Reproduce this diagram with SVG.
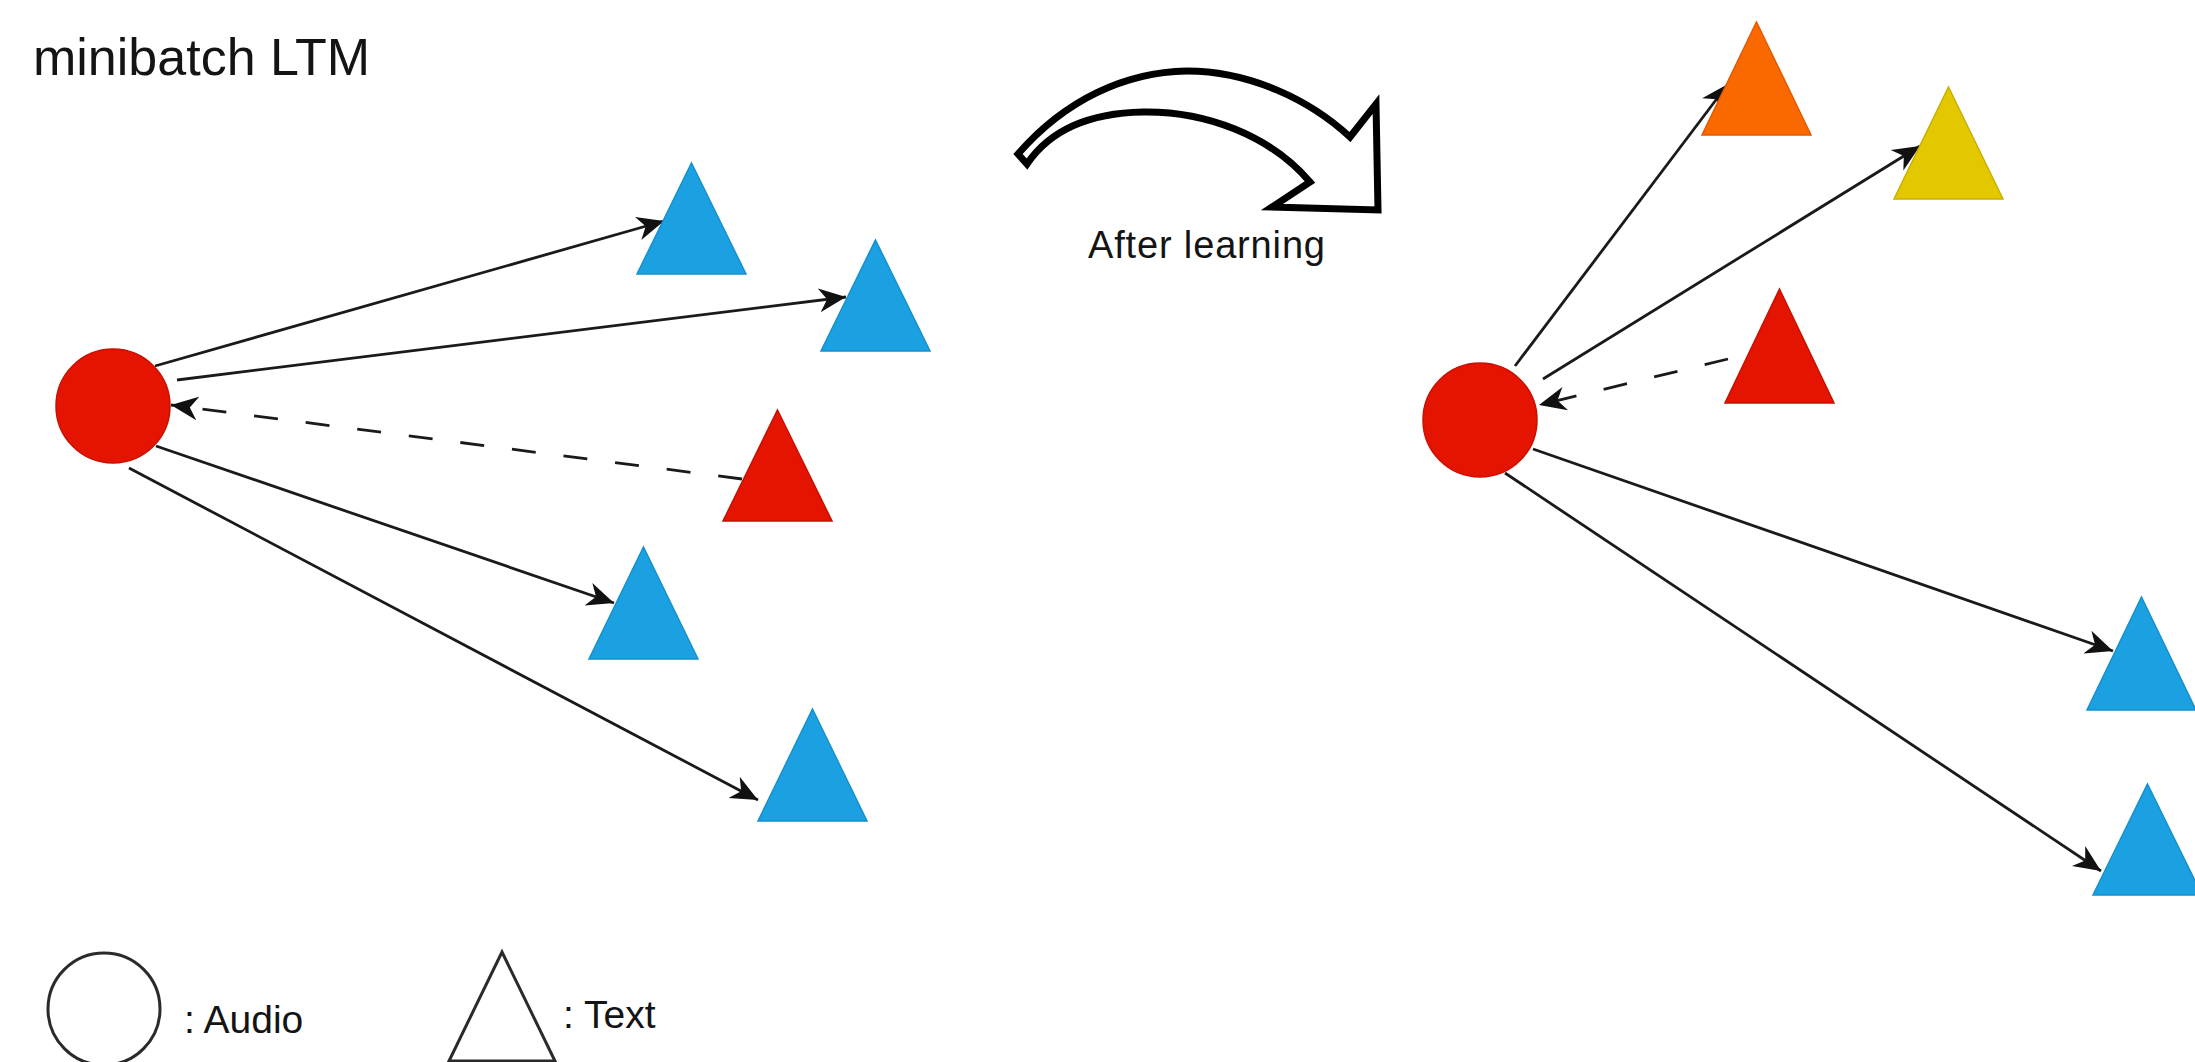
<svg xmlns="http://www.w3.org/2000/svg" width="2195" height="1062" viewBox="0 0 2195 1062">
  <style>
    .label { font-family: "Liberation Sans", Arial, Helvetica, sans-serif; fill: #141414; }
    .audio { fill: #e51400; stroke: #c81000; stroke-width: 1.5; }
    .blue { fill: #1ba1e2; stroke: #1590cf; stroke-width: 1.5; }
    .red { fill: #e51400; stroke: #c81000; stroke-width: 1.5; }
    .orange { fill: #fa6800; stroke: #e35a00; stroke-width: 1.5; }
    .yellow { fill: #e3c800; stroke: #c9b000; stroke-width: 1.5; }
    .edge { fill: none; stroke: #1a1a1a; stroke-width: 2.8; marker-end: url(#arrow); }
    .dashed { stroke-dasharray: 24 28; }
    .legend { fill: #ffffff; stroke: #2a2a2a; stroke-width: 3; }
  </style>
  <defs>
    <marker id="arrow" viewBox="0 0 28 26" markerWidth="28" markerHeight="26" refX="27" refY="13" orient="auto" markerUnits="userSpaceOnUse">
      <path d="M27,13 L0,1 L8,13 L0,25 Z" fill="#111111"/>
    </marker>
  </defs>

  <rect width="2195" height="1062" fill="#ffffff"/>

  <text class="label" x="33" y="75" font-size="52">minibatch LTM</text>

  <!-- connectors -->
  <g id="connectors">
    <!-- before learning -->
    <line class="edge" x1="155" y1="366" x2="664" y2="221"/>
    <line class="edge" x1="177" y1="380" x2="846" y2="297"/>
    <line class="edge dashed" x1="742" y1="479" x2="171" y2="405"/>
    <line class="edge" x1="156" y1="446" x2="614" y2="603"/>
    <line class="edge" x1="129" y1="468" x2="758" y2="800"/>
    <!-- after learning -->
    <line class="edge" x1="1515" y1="366" x2="1728" y2="84"/>
    <line class="edge" x1="1543" y1="379" x2="1920" y2="146"/>
    <line class="edge dashed" x1="1728" y1="359" x2="1539" y2="405"/>
    <line class="edge" x1="1533" y1="449" x2="2113" y2="651"/>
    <line class="edge" x1="1505" y1="473" x2="2101" y2="871"/>
  </g>

  <!-- before learning -->
  <g id="audio-before"><circle class="audio" cx="113" cy="406" r="57"/></g>
  <g id="text-before-1"><polygon class="blue" points="691.5,163 746,274 637,274"/></g>
  <g id="text-before-2"><polygon class="blue" points="875.5,240 930,351 821,351"/></g>
  <g id="text-before-pair"><polygon class="red" points="777.5,410 832,521 723,521"/></g>
  <g id="text-before-3"><polygon class="blue" points="643.5,547 698,659 589,659"/></g>
  <g id="text-before-4"><polygon class="blue" points="812.5,709 867,821 758,821"/></g>

  <!-- transition arrow -->
  <g id="after-learning">
    <path d="M1018,154 C1065,100 1125,72 1187,71 C1250,71 1310,100 1350,137 L1376,104 L1378,210 L1272,207 L1310,182 C1270,135 1205,111 1143,112 C1090,113 1050,130 1027,164 Z" fill="#ffffff" stroke="#000000" stroke-width="7" stroke-linejoin="miter"/>
    <text class="label" x="1088" y="258" font-size="38" textLength="237" lengthAdjust="spacing">After learning</text>
  </g>

  <!-- after learning -->
  <g id="audio-after"><circle class="audio" cx="1480" cy="420" r="57"/></g>
  <g id="text-after-orange"><polygon class="orange" points="1756.5,22 1811,135 1702,135"/></g>
  <g id="text-after-yellow"><polygon class="yellow" points="1948.5,87 2003,199 1894,199"/></g>
  <g id="text-after-pair"><polygon class="red" points="1779.5,289 1834,403 1725,403"/></g>
  <g id="text-after-1"><polygon class="blue" points="2141.5,597 2196,710 2087,710"/></g>
  <g id="text-after-2"><polygon class="blue" points="2147.5,784 2202,895 2093,895"/></g>

  <!-- legend -->
  <g id="legend-audio">
    <circle class="legend" cx="104" cy="1009" r="56"/>
    <text class="label" x="184" y="1033" font-size="39">: Audio</text>
  </g>
  <g id="legend-text">
    <polygon class="legend" points="502,952 555,1061 449,1061"/>
    <text class="label" x="563" y="1028" font-size="39">: Text</text>
  </g>
</svg>
